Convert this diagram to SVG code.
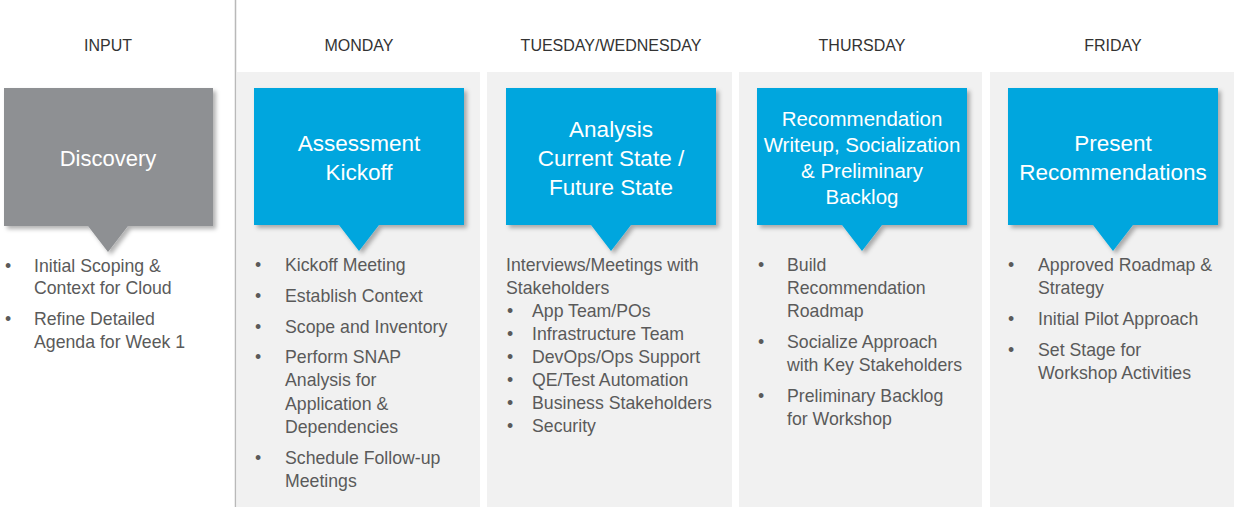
<svg xmlns="http://www.w3.org/2000/svg" width="1234" height="507" viewBox="0 0 1234 507">
<defs>
<style>
.hdr{font-family:"Liberation Sans",Arial,sans-serif;font-size:16px;fill:#333333;text-anchor:middle}
.ttl{font-family:"Liberation Sans",Arial,sans-serif;font-size:22.5px;fill:#ffffff;text-anchor:middle}
.ttl2{font-family:"Liberation Sans",Arial,sans-serif;font-size:20.5px;fill:#ffffff;text-anchor:middle}
.txt{font-family:"Liberation Sans",Arial,sans-serif;font-size:17.7px;fill:#5a5a5a}
.panel{fill:#f1f1f1}
.blue{fill:#03a6de}
.grey{fill:#8e9093}
</style>
<filter id="sh" x="-10%" y="-10%" width="125%" height="125%">
<feDropShadow dx="3" dy="3" stdDeviation="2" flood-color="#000" flood-opacity="0.3"/>
</filter>
</defs>
<rect width="1234" height="507" fill="#ffffff"/>
<g id="panels">
<rect class="panel" x="237" y="72" width="243" height="435"/>
<rect class="panel" x="487" y="72" width="245" height="435"/>
<rect class="panel" x="739" y="72" width="243" height="435"/>
<rect class="panel" x="990" y="72" width="244" height="435"/>
</g>
<line x1="235.5" y1="0" x2="235.5" y2="507" stroke="#b9b9b9" stroke-width="1.5"/>
<g id="headers">
<text class="hdr" x="108" y="51">INPUT</text>
<text class="hdr" x="359" y="51">MONDAY</text>
<text class="hdr" x="611" y="51">TUESDAY/WEDNESDAY</text>
<text class="hdr" x="862" y="51">THURSDAY</text>
<text class="hdr" x="1113" y="51">FRIDAY</text>
</g>
<g id="connectors"></g>
<g id="discovery">
<path class="grey" filter="url(#sh)" d="M4 88 H213 V226 H128 L108 252 L88 226 H4 Z"/>
<text class="ttl" x="108" y="166" style="font-size:22px">Discovery</text>
</g>
<g id="assessment-kickoff">
<path class="blue" filter="url(#sh)" d="M254 88 H464 V225 H379 L359 251 L339 225 H254 Z"/>
<text class="ttl" x="359" y="151">Assessment</text>
<text class="ttl" x="359" y="180">Kickoff</text>
</g>
<g id="analysis">
<path class="blue" filter="url(#sh)" d="M506 88 H716 V225 H631 L611 251 L591 225 H506 Z"/>
<text class="ttl" x="611" y="137">Analysis</text>
<text class="ttl" x="611" y="166">Current State /</text>
<text class="ttl" x="611" y="195">Future State</text>
</g>
<g id="recommendation">
<path class="blue" filter="url(#sh)" d="M757 88 H967 V225 H882 L862 251 L842 225 H757 Z"/>
<text class="ttl2" x="862" y="126">Recommendation</text>
<text class="ttl2" x="862" y="152">Writeup, Socialization</text>
<text class="ttl2" x="862" y="178">&amp; Preliminary</text>
<text class="ttl2" x="862" y="204">Backlog</text>
</g>
<g id="present">
<path class="blue" filter="url(#sh)" d="M1008 88 H1218 V225 H1133 L1113 251 L1093 225 H1008 Z"/>
<text class="ttl" x="1113" y="151">Present</text>
<text class="ttl" x="1113" y="180">Recommendations</text>
</g>
<g id="input-list" class="txt">
<text x="5" y="272">•</text><text x="34" y="272">Initial Scoping &amp;</text>
<text x="34" y="294">Context for Cloud</text>
<text x="5" y="325">•</text><text x="34" y="325">Refine Detailed</text>
<text x="34" y="348">Agenda for Week 1</text>
</g>
<g id="monday-list" class="txt">
<text x="255" y="271">•</text><text x="285" y="271">Kickoff Meeting</text>
<text x="255" y="302">•</text><text x="285" y="302">Establish Context</text>
<text x="255" y="333">•</text><text x="285" y="333">Scope and Inventory</text>
<text x="255" y="363">•</text><text x="285" y="363">Perform SNAP</text>
<text x="285" y="386">Analysis for</text>
<text x="285" y="410">Application &amp;</text>
<text x="285" y="433">Dependencies</text>
<text x="255" y="464">•</text><text x="285" y="464">Schedule Follow-up</text>
<text x="285" y="487">Meetings</text>
</g>
<g id="tuewed-list" class="txt">
<text x="506" y="271">Interviews/Meetings with</text>
<text x="506" y="294">Stakeholders</text>
<text x="507" y="317">•</text><text x="532" y="317">App Team/POs</text>
<text x="507" y="340">•</text><text x="532" y="340">Infrastructure Team</text>
<text x="507" y="363">•</text><text x="532" y="363">DevOps/Ops Support</text>
<text x="507" y="386">•</text><text x="532" y="386">QE/Test Automation</text>
<text x="507" y="409">•</text><text x="532" y="409">Business Stakeholders</text>
<text x="507" y="432">•</text><text x="532" y="432">Security</text>
</g>
<g id="thursday-list" class="txt">
<text x="758" y="271">•</text><text x="787" y="271">Build</text>
<text x="787" y="294">Recommendation</text>
<text x="787" y="317">Roadmap</text>
<text x="758" y="348">•</text><text x="787" y="348">Socialize Approach</text>
<text x="787" y="371">with Key Stakeholders</text>
<text x="758" y="402">•</text><text x="787" y="402">Preliminary Backlog</text>
<text x="787" y="425">for Workshop</text>
</g>
<g id="friday-list" class="txt">
<text x="1008" y="271">•</text><text x="1038" y="271">Approved Roadmap &amp;</text>
<text x="1038" y="294">Strategy</text>
<text x="1008" y="325">•</text><text x="1038" y="325">Initial Pilot Approach</text>
<text x="1008" y="356">•</text><text x="1038" y="356">Set Stage for</text>
<text x="1038" y="379">Workshop Activities</text>
</g>
</svg>
